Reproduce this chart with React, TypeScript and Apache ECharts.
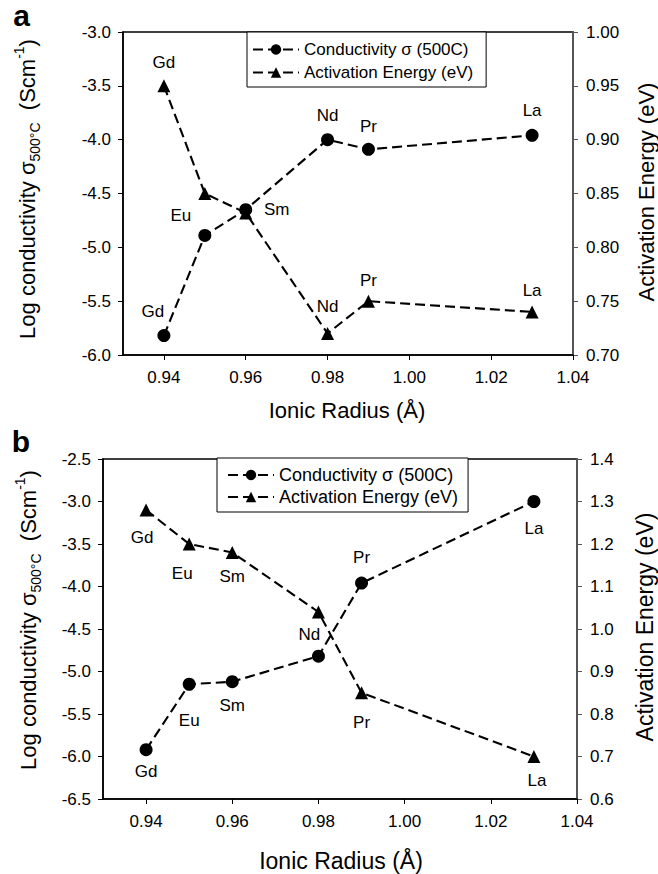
import React, { useEffect, useRef } from "react";
import * as echarts from "echarts";

const elements = ["Gd", "Eu", "Sm", "Nd", "Pr", "La"];
const ionicRadius = [0.94, 0.95, 0.96, 0.98, 0.99, 1.03];
const xTicks = [0.94, 0.96, 0.98, 1.0, 1.02, 1.04];

// panel a
const conductivityA = [-5.82, -4.89, -4.65, -4.0, -4.09, -3.96];
const activationA = [0.95, 0.85, 0.832, 0.72, 0.75, 0.74];
// panel b
const conductivityB = [-5.92, -5.15, -5.12, -4.82, -3.96, -3.0];
const activationB = [1.28, 1.2, 1.18, 1.04, 0.85, 0.7];

const seriesNames = ["Conductivity σ (500C)", "Activation Energy (eV)"];

// label placement (offset from point centre), null = no label
const labelOffsetCondA: (number[] | null)[] = [[-11, -24], [-24, -20], [31, 0], [0, -24], [0, -23], [0, -25]];
const labelOffsetEaA: (number[] | null)[] = [[0, -23], null, null, [0, -27], [0, -21], [0, -21]];
const labelOffsetCondB: (number[] | null)[] = [[0, 22], [0, 36], [0, 24], null, [0, -26], [0, 27]];
const labelOffsetEaB: (number[] | null)[] = [[-4, 27], [-7, 29], [0, 24], [-9, 22], [0, 30], [3, 24]];

const FONT = "'Liberation Sans', Arial, sans-serif";

function buildData(ys: number[], offsets: (number[] | null)[], fontSize: number) {
  return ionicRadius.map((x, i) => ({
    value: [x, ys[i]],
    name: elements[i],
    label: offsets[i]
      ? {
          show: true,
          position: "inside",
          offset: offsets[i],
          formatter: elements[i],
          color: "#000",
          fontSize,
          fontFamily: FONT,
        }
      : { show: false },
  }));
}

function lineSeries(name: string, symbol: string, xIdx: number, yIdx: number, data: any[]) {
  return {
    name,
    type: "line",
    xAxisIndex: xIdx,
    yAxisIndex: yIdx,
    symbol,
    symbolSize: 13,
    data,
    lineStyle: { color: "#000", width: 2.1, type: [10, 5] },
    itemStyle: { color: "#000" },
    emphasis: { disabled: true },
  };
}

function titleRich(size: number, small: number) {
  return {
    t: { fontSize: size, fontFamily: FONT, lineHeight: size + 8, color: "#000" },
    s: { fontSize: small, fontFamily: FONT, lineHeight: small, verticalAlign: "bottom", color: "#000" },
    p: { fontSize: small, fontFamily: FONT, lineHeight: small, verticalAlign: "top", color: "#000" },
  };
}

export default function App() {
  const ref = useRef<HTMLDivElement>(null);
  useEffect(() => {
    document.body.style.margin = "0";
    const chart = echarts.init(ref.current!, null, { renderer: "svg" });
    const xAxisBase = (gridIndex: number) => ({
      type: "value",
      gridIndex,
      min: 0.93,
      max: 1.04,
      axisLine: { show: true, lineStyle: { color: "#000", width: 1.5 } },
      axisTick: { show: true, customValues: xTicks, length: 5, inside: false, lineStyle: { color: "#000" } },
      axisLabel: {
        customValues: xTicks,
        formatter: (v: number) => v.toFixed(2),
        fontSize: 17,
        fontFamily: FONT,
        color: "#000",
        margin: 14,
      },
      splitLine: { show: false },
    });
    const yAxisBase = (gridIndex: number, min: number, max: number, interval: number, digits: number, position: string) => ({
      type: "value",
      gridIndex,
      min,
      max,
      interval,
      position,
      axisLine: { show: true, lineStyle: { color: position === "right" ? "#555" : "#000", width: position === "right" ? 2 : 1.5 } },
      axisTick: { show: true, length: 5, inside: false, lineStyle: { color: position === "right" ? "#555" : "#000" } },
      axisLabel: {
        formatter: (v: number) => v.toFixed(digits),
        fontSize: 17,
        fontFamily: FONT,
        color: "#000",
        margin: position === "right" ? 13 : 12,
      },
      splitLine: { show: false },
    });

    const option: any = {
      animation: false,
      backgroundColor: "#fff",
      grid: [
        { left: 123, top: 32, width: 450, height: 323, show: true, borderColor: "#000", borderWidth: 1.5, backgroundColor: "transparent" },
        { left: 103, top: 459, width: 474, height: 340, show: true, borderColor: "#000", borderWidth: 1.5, backgroundColor: "transparent" },
      ],
      xAxis: [xAxisBase(0), xAxisBase(1)],
      yAxis: [
        yAxisBase(0, -6, -3, 0.5, 1, "left"),
        yAxisBase(0, 0.7, 1.0, 0.05, 2, "right"),
        yAxisBase(1, -6.5, -2.5, 0.5, 1, "left"),
        yAxisBase(1, 0.6, 1.4, 0.1, 1, "right"),
      ],
      legend: [
        {
          data: seriesNames,
          orient: "vertical",
          left: 247,
          top: 32,
          padding: [9, 13, 6, 5],
          itemWidth: 46,
          itemHeight: 13,
          itemGap: 6,
          borderColor: "#000",
          borderWidth: 1,
          backgroundColor: "#fff",
          selectedMode: false,
          textStyle: { fontSize: 17, fontFamily: FONT, color: "#000" },
        },
        {
          data: seriesNames,
          orient: "vertical",
          left: 217,
          top: 458,
          padding: [8, 10, 6, 10],
          itemWidth: 46,
          itemHeight: 13,
          itemGap: 4,
          borderColor: "#000",
          borderWidth: 1,
          backgroundColor: "#fff",
          selectedMode: false,
          textStyle: { fontSize: 18, fontFamily: FONT, color: "#000" },
        },
      ],
      series: [
        lineSeries(seriesNames[0], "circle", 0, 0, buildData(conductivityA, labelOffsetCondA, 17)),
        lineSeries(seriesNames[1], "triangle", 0, 1, buildData(activationA, labelOffsetEaA, 17)),
        lineSeries(seriesNames[0], "circle", 1, 2, buildData(conductivityB, labelOffsetCondB, 17)),
        lineSeries(seriesNames[1], "triangle", 1, 3, buildData(activationB, labelOffsetEaB, 17)),
      ],
      graphic: [
        { type: "text", x: 21.5, y: 15.5, style: { text: "a", font: `bold 30px ${FONT}`, fill: "#000", textAlign: "center", textVerticalAlign: "middle" } },
        { type: "text", x: 21, y: 441.5, style: { text: "b", font: `bold 30px ${FONT}`, fill: "#000", textAlign: "center", textVerticalAlign: "middle" } },
        // panel a titles
        {
          type: "text", x: 27, y: 189, rotation: Math.PI / 2,
          style: { text: "{t|Log conductivity σ}{s|500°C}{t|  (Scm}{p|-1}{t|)}", rich: titleRich(22, 14), textAlign: "center", textVerticalAlign: "middle" },
        },
        { type: "text", x: 646, y: 192, rotation: Math.PI / 2, style: { text: "Activation Energy (eV)", font: `22px ${FONT}`, fill: "#000", textAlign: "center", textVerticalAlign: "middle" } },
        { type: "text", x: 347, y: 410, style: { text: "Ionic Radius (Å)", font: `22px ${FONT}`, fill: "#000", textAlign: "center", textVerticalAlign: "middle" } },
        // panel b titles
        {
          type: "text", x: 28, y: 620, rotation: Math.PI / 2,
          style: { text: "{t|Log conductivity σ}{s|500°C}{t|  (Scm}{p|-1}{t|)}", rich: titleRich(22, 14), textAlign: "center", textVerticalAlign: "middle" },
        },
        { type: "text", x: 645, y: 627, rotation: Math.PI / 2, style: { text: "Activation Energy (eV)", font: `23px ${FONT}`, fill: "#000", textAlign: "center", textVerticalAlign: "middle" } },
        { type: "text", x: 341, y: 861, style: { text: "Ionic Radius (Å)", font: `23px ${FONT}`, fill: "#000", textAlign: "center", textVerticalAlign: "middle" } },
      ],
    };
    chart.setOption(option);
    return () => chart.dispose();
  }, []);
  return <div ref={ref} style={{ width: 658, height: 874 }} />;
}
